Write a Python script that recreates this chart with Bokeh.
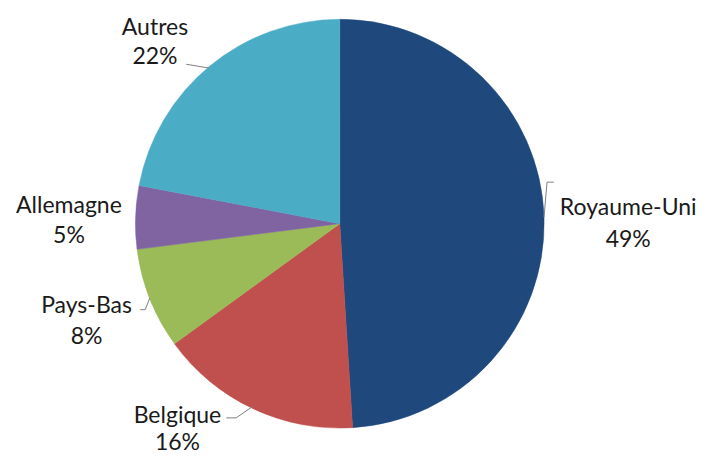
import math
from bokeh.plotting import figure
from bokeh.models import Range1d, ColumnDataSource
from bokeh.core.properties import value
from bokeh.embed import file_html
from bokeh.resources import INLINE

# ---- data ----
categories = ["Royaume-Uni", "Belgique", "Pays-Bas", "Allemagne", "Autres"]
shares = [49, 16, 8, 5, 22]
colors = ["#1F497D", "#C0504D", "#9BBB59", "#8064A2", "#4BACC6"]

# ---- layout (reference-pixel coordinates, y measured downwards) ----
W, H = 702, 457
REF_W, REF_H = 718, 473
CX, CY, R = 347, 231, 209
FONT = "Lato"
FS = "23px"
# label centres: (x, y of name line, y of percent line)
label_pos = {
    "Royaume-Uni": (642, 213, 246),
    "Belgique": (181, 428, 456),
    "Pays-Bas": (88, 314, 346),
    "Allemagne": (70, 211, 242),
    "Autres": (158, 26, 56),
}
# leader elbow points from slice edge towards label
leaders = {
    "Royaume-Uni": [(559, 188), (566, 188)],
    "Belgique": [(241, 432), (231, 432)],
    "Pays-Bas": [(148, 320), (143, 320)],
    "Autres": [(190, 66)],
}


def Y(y):
    return REF_H - y


def X(x):
    return x


p = figure(width=W, height=H, output_backend="svg", toolbar_location=None,
           x_range=Range1d(0, REF_W), y_range=Range1d(0, REF_H),
           min_border=0)
p.axis.visible = False
p.grid.visible = False
p.outline_line_color = None
p.background_fill_color = "white"
p.border_fill_color = "white"

total = float(sum(shares))
starts, ends, mids = [], [], []
acc = 0.0
for s in shares:
    a0 = math.pi / 2 - 2 * math.pi * acc / total
    acc += s
    a1 = math.pi / 2 - 2 * math.pi * acc / total
    starts.append(a0)
    ends.append(a1)
    mids.append((a0 + a1) / 2)

src = ColumnDataSource(dict(start=starts, end=ends, color=colors, cat=categories))
p.wedge(x=X(CX), y=Y(CY), radius=R, start_angle="start", end_angle="end",
        direction="clock", fill_color="color", line_color="color", line_width=0.5,
        source=src)

# labels and leader lines
for cat, s, m in zip(categories, shares, mids):
    lx, ly1, ly2 = label_pos[cat]
    p.text(x=[X(lx)], y=[Y(ly1)], text=[cat], text_align="center",
           text_baseline="middle", text_font=value(FONT), text_font_size=FS,
           text_color="#1a1a1a")
    p.text(x=[X(lx)], y=[Y(ly2)], text=[f"{round(100 * s / total)}%"],
           text_align="center", text_baseline="middle", text_font=value(FONT),
           text_font_size=FS, text_color="#1a1a1a")
    if cat in leaders:
        ex = CX + R * math.cos(m)
        ey = CY - R * math.sin(m)
        pts = [(ex, ey)] + leaders[cat]
        p.line(x=[X(a) for a, b in pts], y=[Y(b) for a, b in pts],
               line_color="#808080", line_width=1)

open("out.html", "w").write(file_html(p, INLINE))
